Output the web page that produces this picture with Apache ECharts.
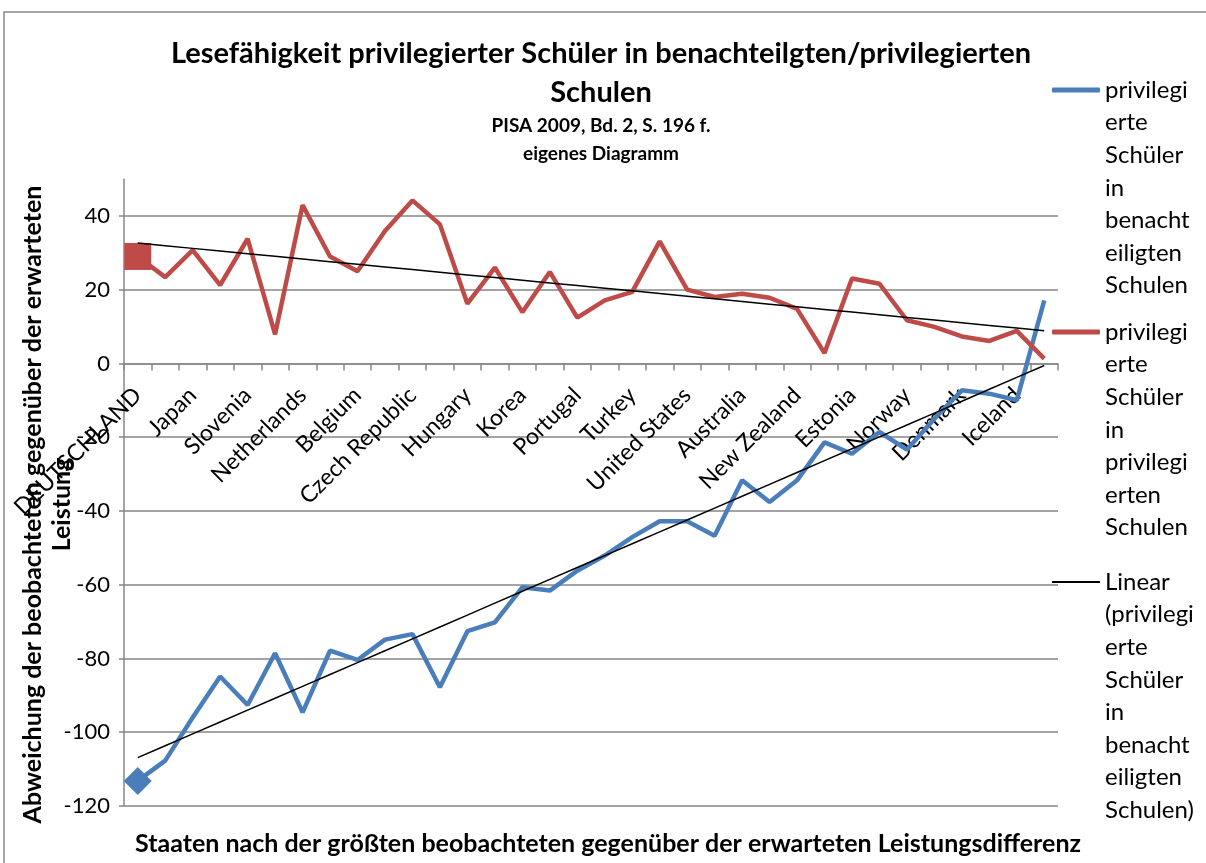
<!DOCTYPE html>
<html>
<head>
<meta charset="utf-8">
<script src="https://cdn.jsdelivr.net/npm/echarts@6/dist/echarts.min.js"></script>
<style>
  html, body { margin: 0; padding: 0; background: #fff; }
  #chart { width: 1206px; height: 863px; }
</style>
</head>
<body>
<div id="chart"></div>
<script>
// Staaten (34 OECD-Länder), nur jede zweite Beschriftung ist sichtbar
var countries = [
  'DEUTSCHLAND', 'Israel', 'Japan', 'Austria', 'Slovenia', 'Italy', 'Netherlands', 'Luxembourg',
  'Belgium', 'Slovak Republic', 'Czech Republic', 'Greece', 'Hungary', 'Chile', 'Korea', 'Switzerland',
  'Portugal', 'Mexico', 'Turkey', 'France', 'United States', 'United Kingdom', 'Australia', 'Ireland',
  'New Zealand', 'Sweden', 'Estonia', 'Poland', 'Norway', 'Spain', 'Denmark', 'Canada',
  'Iceland', 'Finland'
];
// privilegierte Schüler in benachteiligten Schulen
var benachteiligt = [
  -113.2, -107.7, -96.0, -84.9, -92.6, -78.6, -94.6, -77.9, -80.4, -74.9,
  -73.4, -87.8, -72.6, -70.2, -60.7, -61.6, -56.2, -52.1, -47.1, -42.8,
  -42.8, -46.7, -31.7, -37.6, -31.7, -21.4, -24.5, -18.6, -23.4, -15.0,
  -7.3, -8.2, -10.0, 17.1
];
// privilegierte Schüler in privilegierten Schulen
var privilegiert = [
  29.0, 23.4, 30.7, 21.2, 33.8, 7.9, 42.9, 29.0, 25.0, 35.9,
  44.2, 37.7, 16.2, 26.0, 13.9, 24.8, 12.4, 17.1, 19.4, 33.1,
  20.0, 18.0, 18.9, 17.8, 14.8, 2.8, 23.0, 21.6, 11.7, 9.9,
  7.3, 6.1, 8.8, 1.3
];
var yTicks = { min: -120, max: 50, step: 20 };

var nameBen = 'privilegierte Schüler in benachteiligten Schulen';
var namePriv = 'privilegierte Schüler in privilegierten Schulen';
var nameLin = 'Linear (privilegierte Schüler in benachteiligten Schulen)';
var legendText = {};
legendText[nameBen] = 'privilegi\nerte\nSchüler\nin\nbenacht\neiligten\nSchulen';
legendText[namePriv] = 'privilegi\nerte\nSchüler\nin\nprivilegi\nerten\nSchulen';
legendText[nameLin] = 'Linear\n(privilegi\nerte\nSchüler\nin\nbenacht\neiligten\nSchulen)';

// lineare Trendlinie (kleinste Quadrate über den Index)
function trend(vals) {
  var n = vals.length, sx = 0, sy = 0, sxx = 0, sxy = 0;
  for (var i = 0; i < n; i++) { sx += i; sy += vals[i]; sxx += i * i; sxy += i * vals[i]; }
  var b = (n * sxy - sx * sy) / (n * sxx - sx * sx);
  var a = (sy - b * sx) / n;
  return vals.map(function (v, i) { return +(a + b * i).toFixed(2); });
}

var FONT = 'Lato';
var LH = 32.6;
var GRID_TOP = 179, GRID_BOTTOM = 57, H = 863;
var chart = echarts.init(document.getElementById('chart'));

// Legende: Symbol auf Höhe der ersten Textzeile (Leerzeilen davor)
function legendFor(name, iconY, iconH) {
  var lines = legendText[name].split('\n').length;
  var pad = new Array(lines).join('\n');
  return {
    data: [name],
    orient: 'vertical',
    left: 1052,
    top: iconY - (lines - 0.5) * LH,
    padding: 0,
    icon: 'roundRect',
    itemWidth: 48,
    itemHeight: iconH,
    formatter: function (n) { return pad + legendText[n]; },
    textStyle: { fontFamily: FONT, fontSize: 24, color: '#000', lineHeight: LH }
  };
}

// y-Pixel der Null-Linie, damit die Kategorienachse dort sitzt
var plotH = H - GRID_TOP - GRID_BOTTOM;
var zeroOffset = plotH * (0 - yTicks.min) / (yTicks.max - yTicks.min);

var option = {
  backgroundColor: '#fff',
  animation: false,
  title: {
    text: 'Lesefähigkeit privilegierter Schüler in benachteilgten/privilegierten\nSchulen',
    subtext: 'PISA 2009, Bd. 2, S. 196 f.\neigenes Diagramm',
    left: 601,
    textAlign: 'center',
    top: 34,
    padding: 0,
    itemGap: 0,
    textStyle: { fontFamily: FONT, fontWeight: 'bold', fontSize: 29, lineHeight: 39, color: '#000' },
    subtextStyle: { fontFamily: FONT, fontWeight: 'bold', fontSize: 19, lineHeight: 28, color: '#000' }
  },
  legend: [
    legendFor(nameBen, 90, 5),
    legendFor(namePriv, 332, 5),
    legendFor(nameLin, 582, 2)
  ],
  graphic: [{
    type: 'rect',
    shape: { x: 4, y: 12, width: 1400, height: 1000 },
    style: { fill: 'none', stroke: '#888', lineWidth: 1.5 },
    silent: true
  }],
  grid: { left: 124, right: 148, top: GRID_TOP, bottom: GRID_BOTTOM, outerBoundsMode: 'none' },
  xAxis: {
    type: 'category',
    data: countries,
    boundaryGap: true,
    offset: -zeroOffset,
    name: 'Staaten nach der größten beobachteten gegenüber der erwarteten Leistungsdifferenz',
    nameLocation: 'middle',
    nameGap: 468,
    nameMoveOverlap: false,
    nameTextStyle: { fontFamily: FONT, fontWeight: 'bold', fontSize: 25, color: '#000', padding: [0, 0, 0, 34] },
    axisLine: { onZero: false, lineStyle: { color: '#868686', width: 1.5 } },
    axisTick: { show: true, interval: 0, length: 7, lineStyle: { color: '#868686', width: 1.5 } },
    axisLabel: {
      interval: 1, rotate: 45, margin: 28,
      fontFamily: FONT, fontSize: 23, color: '#000'
    },
    splitLine: { show: false }
  },
  yAxis: {
    type: 'value',
    min: yTicks.min,
    max: yTicks.max,
    interval: yTicks.step,
    name: 'Abweichung der beobachteten gegenüber der erwarteten\nLeistung',
    nameLocation: 'middle',
    nameGap: 48,
    nameMoveOverlap: false,
    nameTextStyle: { fontFamily: FONT, fontWeight: 'bold', fontSize: 25, lineHeight: 29, color: '#000', padding: [0, 24, 0, 0] },
    axisLine: { show: true, lineStyle: { color: '#868686', width: 1.5 } },
    axisTick: { show: true, length: 5, lineStyle: { color: '#868686', width: 1.5 } },
    axisLabel: { showMaxLabel: false, margin: 14, fontFamily: FONT, fontSize: 22, color: '#000' },
    splitLine: { show: true, showMaxLine: false, lineStyle: { color: '#868686', width: 1.5 } }
  },
  series: [
    {
      name: nameBen,
      type: 'line',
      symbol: 'none',
      showSymbol: true,
      color: '#4A7EBB',
      lineStyle: { width: 4.5, color: '#4A7EBB' },
      data: benachteiligt.map(function (v, i) {
        return i === 0 ? { value: v, symbol: 'diamond', symbolSize: 28 } : v;
      }),
      z: 2
    },
    {
      name: namePriv,
      type: 'line',
      symbol: 'none',
      showSymbol: true,
      color: '#BE4B48',
      lineStyle: { width: 4.5, color: '#BE4B48' },
      data: privilegiert.map(function (v, i) {
        return i === 0 ? { value: v, symbol: 'rect', symbolSize: 27 } : v;
      }),
      z: 3
    },
    {
      name: nameLin,
      type: 'line',
      symbol: 'none',
      color: '#000',
      lineStyle: { width: 1.5, color: '#000' },
      data: trend(benachteiligt),
      z: 4
    },
    {
      name: 'Linear (privilegierte Schüler in privilegierten Schulen)',
      type: 'line',
      symbol: 'none',
      color: '#000',
      lineStyle: { width: 1.5, color: '#000' },
      data: trend(privilegiert),
      z: 4
    }
  ]
};
chart.setOption(option);
</script>
</body>
</html>
